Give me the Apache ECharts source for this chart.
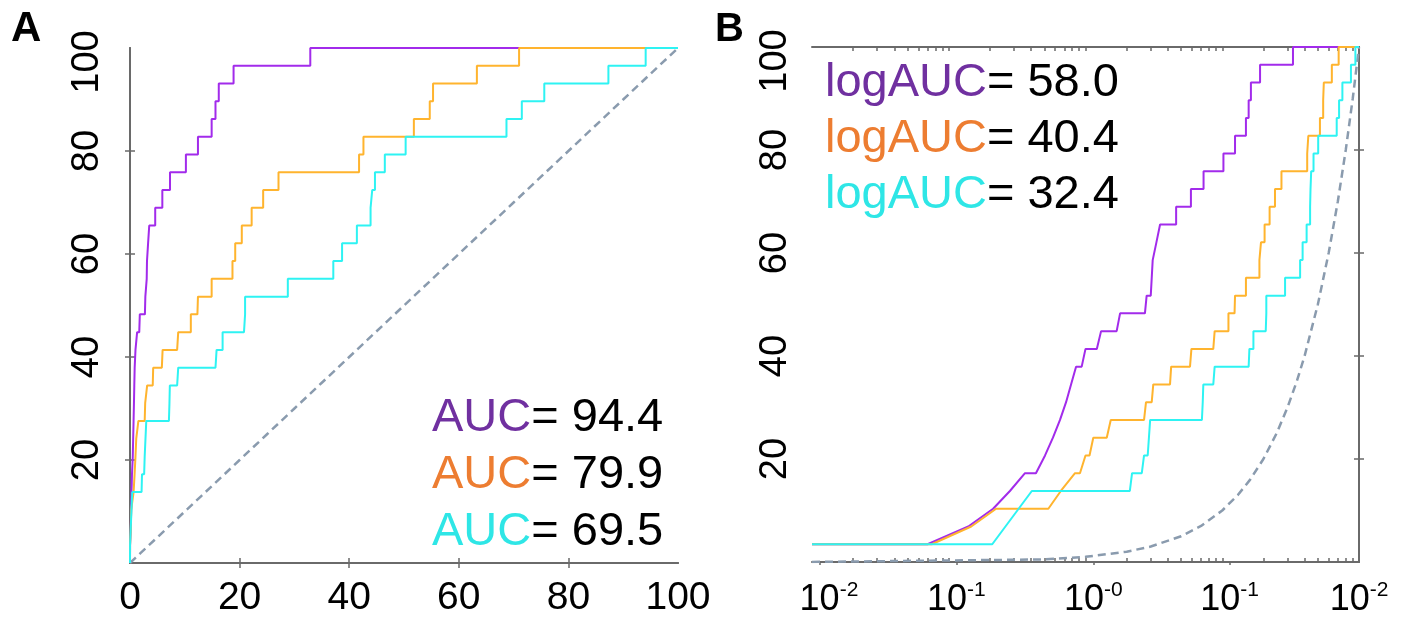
<!DOCTYPE html>
<html>
<head>
<meta charset="utf-8">
<script src="https://cdn.jsdelivr.net/npm/echarts@6/dist/echarts.min.js"></script>
<style>
  html, body { margin: 0; padding: 0; background: #fff; }
  #chart { width: 1408px; height: 619px; }
</style>
</head>
<body>
<div id="chart"></div>
<script>
// ROC curve vertices: [false positive rate (%), true positive rate (%)]
const rocPurple = [
  [0, 0], [0.01, 3.45], [0.07, 3.45], [0.139, 6.90], [0.211, 10.34], [0.28, 13.79],
  [0.361, 17.24], [0.434, 17.24], [0.506, 20.69], [0.578, 24.14], [0.651, 27.59],
  [0.721, 31.03], [0.784, 34.48], [0.853, 37.93], [0.938, 37.93], [1.0, 41.38],
  [1.21, 41.38], [1.30, 44.83], [1.69, 44.83], [1.79, 48.28], [2.72, 48.28],
  [2.80, 51.72], [3.0, 51.72], [3.05, 55.17], [3.1, 58.62], [3.30, 62.07],
  [3.51, 65.52], [4.6, 65.52], [4.6, 68.97], [5.9, 68.97], [5.9, 72.41],
  [7.3, 72.41], [7.3, 75.86], [10.2, 75.86], [10.2, 79.31], [12.4, 79.31],
  [12.4, 82.76], [14.9, 82.76], [14.9, 86.21], [15.6, 86.21], [15.6, 89.66],
  [16.2, 89.66], [16.2, 93.10], [18.9, 93.10], [18.9, 96.55], [32.9, 96.55],
  [32.9, 100], [100, 100]
];
const rocOrange = [
  [0, 0], [0.01, 3.45], [0.075, 3.45], [0.146, 6.90], [0.222, 10.34], [0.535, 10.34],
  [0.66, 13.79], [0.838, 17.24], [0.911, 17.24], [1.0, 20.69], [1.07, 20.69],
  [1.14, 24.14], [1.43, 24.14], [1.53, 27.59], [2.68, 27.59], [2.77, 31.03],
  [3.05, 31.03], [3.13, 34.48], [4.15, 34.48], [4.23, 37.93], [5.81, 37.93],
  [5.95, 41.38], [8.6, 41.38], [8.8, 44.83], [11.1, 44.83], [11.1, 48.28],
  [12.3, 48.28], [12.4, 51.72], [14.9, 51.72], [14.9, 55.17], [18.7, 55.17],
  [18.7, 58.62], [19.2, 58.62], [19.2, 62.07], [20.4, 62.07], [20.4, 65.52],
  [22.2, 65.52], [22.2, 68.97], [24.3, 68.97], [24.3, 72.41], [27.1, 72.41],
  [27.1, 75.86], [41.8, 75.86], [41.8, 79.31], [42.6, 79.31], [42.6, 82.76],
  [51.8, 82.76], [51.8, 86.21], [54.7, 86.21], [54.7, 89.66], [55.3, 89.66],
  [55.3, 93.10], [63.3, 93.10], [63.3, 96.55], [71.0, 96.55], [71.0, 100], [100, 100]
];
const rocCyan = [
  [0, 0], [0.01, 3.45], [0.208, 3.45], [0.405, 13.79], [2.11, 13.79], [2.19, 17.24],
  [2.58, 17.24], [2.68, 20.69], [2.85, 20.69], [2.97, 27.59], [7.1, 27.59],
  [7.2, 31.03], [7.27, 34.48], [8.6, 34.48], [8.8, 37.93], [15.6, 37.93],
  [15.8, 41.38], [16.9, 41.38], [16.9, 44.83], [20.8, 44.83], [21.0, 48.28],
  [21.0, 51.72], [28.8, 51.72], [28.8, 55.17], [37.1, 55.17], [37.1, 58.62],
  [38.7, 58.62], [38.7, 62.07], [41.4, 62.07], [41.4, 65.52], [43.9, 65.52],
  [43.9, 68.97], [44.2, 68.97], [44.2, 72.41], [44.7, 72.41], [44.7, 75.86],
  [46.5, 75.86], [46.5, 79.31], [50.3, 79.31], [50.3, 82.76], [68.7, 82.76],
  [68.7, 86.21], [71.5, 86.21], [71.5, 89.66], [75.6, 89.66], [75.6, 93.10],
  [87.3, 93.10], [87.3, 96.55], [94.1, 96.55], [94.1, 100], [100, 100]
];
// random-guess reference line (TPR = FPR)
const chanceLine = [
  [0, 0], [0.01, 0.01], [0.5, 0.5], [1, 1], [2, 2], [3, 3], [5, 5], [7, 7],
  [10, 10], [13, 13], [16, 16], [20, 20], [25, 25], [30, 30], [35, 35], [40, 40],
  [50, 50], [60, 60], [70, 70], [80, 80], [90, 90], [100, 100]
];

const aucValues = [94.4, 79.9, 69.5];
const logAucValues = [58.0, 40.4, 32.4];

const linearTicks = [0, 20, 40, 60, 80, 100];
const tprTicks = [20, 40, 60, 80, 100];
const innerTprTicks = [20, 40, 60, 80];
const innerFprTicks = [20, 40, 60, 80];
// decade axis (log10 of the FPR fraction): label positions and their exponents
const logLabelPos = [-3.876, -2.945, -1.942, -0.947, 0];
const logLabelExp = ['-2', '-1', '-0', '-1', '-2'];
const logOuterTicks = [-3.942, -2.943, -1.942, -0.947];

const lineColors = ['#A22BEB', '#FFB42E', '#2EF3F3'];
const textColors = ['#7030A0', '#ED7D31', '#2EE6E6'];
const chanceColor = '#8A9BAE';
const frameColor = '#6A6A6A';
const FONT = "'Liberation Sans', Arial, Helvetica, sans-serif";

// minor ticks of the log axis at m * 10^k
const logMinorTicks = [];
for (let k = -4; k <= -1; k++) {
  for (let m = 1; m <= 9; m++) {
    const v = k + Math.log10(m);
    if (v > -4) logMinorTicks.push(v);
  }
}

const frameLine = { show: true, lineStyle: { color: frameColor, width: 2 } };
const innerTick = (values, len) => ({
  show: true, inside: true, length: len, customValues: values,
  lineStyle: { color: frameColor, width: 1.5 }
});
const noLabel = { show: false };

function tprLabel(margin) {
  return {
    show: true, customValues: tprTicks, rotate: 90, margin: margin,
    fontSize: 38, fontFamily: FONT, color: '#000',
    formatter: v => (v === 100 ? '{top|100}' : String(v)),
    rich: { top: { fontSize: 38, fontFamily: FONT, color: '#000', padding: [0, 28, 0, 0] } }
  };
}

const xAxis = [
  // panel A
  { gridIndex: 0, type: 'value', min: 0, max: 100, position: 'bottom',
    axisLine: frameLine, axisTick: innerTick(innerFprTicks, 5), splitLine: { show: false },
    axisLabel: { show: true, customValues: linearTicks, margin: 16, fontSize: 39,
                 fontFamily: FONT, color: '#000' } },
  { gridIndex: 0, type: 'value', min: 0, max: 100, position: 'top',
    axisLine: frameLine, axisTick: innerTick(innerFprTicks, 5), splitLine: { show: false },
    axisLabel: noLabel },
  // panel B: FPR data axis (log)
  { gridIndex: 1, type: 'log', logBase: 10, min: 0.01, max: 100, show: false,
    splitLine: { show: false } },
  // panel B: decade axis carrying labels
  { gridIndex: 1, type: 'value', min: -4, max: 0, position: 'bottom',
    axisLine: frameLine, splitLine: { show: false },
    axisTick: { show: true, inside: false, length: 3, customValues: logOuterTicks,
                lineStyle: { color: frameColor, width: 1.5 } },
    axisLabel: {
      show: true, customValues: logLabelPos, margin: 18,
      formatter: v => {
        let best = 0;
        logLabelPos.forEach((p, i) => { if (Math.abs(p - v) < Math.abs(logLabelPos[best] - v)) best = i; });
        return '{b|10}{s|' + logLabelExp[best] + '}';
      },
      rich: {
        b: { fontSize: 36, fontFamily: FONT, color: '#000', lineHeight: 40 },
        s: { fontSize: 21, fontFamily: FONT, color: '#000', verticalAlign: 'top' }
      }
    } },
  { gridIndex: 1, type: 'value', min: -4, max: 0, position: 'bottom',
    axisLine: { show: false }, axisTick: innerTick(logMinorTicks, 4),
    splitLine: { show: false }, axisLabel: noLabel },
  { gridIndex: 1, type: 'value', min: -4, max: 0, position: 'top',
    axisLine: frameLine, axisTick: innerTick(logMinorTicks, 4),
    splitLine: { show: false }, axisLabel: noLabel }
];

const yAxis = [
  { gridIndex: 0, type: 'value', min: 0, max: 100, position: 'left',
    axisLine: frameLine, axisTick: innerTick(innerTprTicks, 5), splitLine: { show: false },
    axisLabel: tprLabel(23) },
  { gridIndex: 0, type: 'value', min: 0, max: 100, position: 'right',
    axisLine: frameLine, axisTick: innerTick(innerTprTicks, 5), splitLine: { show: false },
    axisLabel: noLabel },
  { gridIndex: 1, type: 'value', min: 0, max: 100, position: 'left',
    axisLine: frameLine, axisTick: innerTick(innerTprTicks, 5), splitLine: { show: false },
    axisLabel: tprLabel(17) },
  { gridIndex: 1, type: 'value', min: 0, max: 100, position: 'right',
    axisLine: frameLine, axisTick: innerTick(innerTprTicks, 5), splitLine: { show: false },
    axisLabel: noLabel }
];

function curve(data, color, xi, yi, dashed) {
  return {
    type: 'line', xAxisIndex: xi, yAxisIndex: yi, data: data,
    showSymbol: false, symbol: 'none', silent: true, animation: false,
    lineStyle: dashed
      ? { color: color, width: 2.5, type: [8, 5] }
      : { color: color, width: 2 }
  };
}
const positiveOnly = d => d.filter(p => p[0] > 0);

const rocSets = [rocPurple, rocOrange, rocCyan];
const series = [curve(chanceLine, chanceColor, 0, 0, true)];
rocSets.forEach((d, i) => series.push(curve(d, lineColors[i], 0, 0, false)));
series.push(curve(positiveOnly(chanceLine), chanceColor, 2, 2, true));
rocSets.forEach((d, i) => series.push(curve(positiveOnly(d), lineColors[i], 2, 2, false)));

// annotation text blocks
const graphic = [
  { type: 'text', x: 11, y: 29, style: { text: 'A', fontSize: 42, fontWeight: 'bold',
    fontFamily: FONT, fill: '#000', verticalAlign: 'middle' } },
  { type: 'text', x: 715, y: 30, style: { text: 'B', fontSize: 40, fontWeight: 'bold',
    fontFamily: FONT, fill: '#000', verticalAlign: 'middle' } }
];
const aucY = [418, 475, 532];
aucValues.forEach((v, i) => graphic.push({
  type: 'text', x: 432, y: aucY[i],
  style: {
    text: '{c|AUC}{k|= ' + v.toFixed(1) + '}', verticalAlign: 'middle',
    fontSize: 47, fontFamily: FONT,
    rich: { c: { fill: textColors[i], fontSize: 47, fontFamily: FONT },
            k: { fill: '#000', fontSize: 47, fontFamily: FONT } }
  }
}));
const logAucY = [83, 139, 195];
logAucValues.forEach((v, i) => graphic.push({
  type: 'text', x: 825, y: logAucY[i],
  style: {
    text: '{c|logAUC}{k|= ' + v.toFixed(1) + '}', verticalAlign: 'middle',
    fontSize: 47, fontFamily: FONT,
    rich: { c: { fill: textColors[i], fontSize: 47, fontFamily: FONT },
            k: { fill: '#000', fontSize: 47, fontFamily: FONT } }
  }
}));

const chart = echarts.init(document.getElementById('chart'), null, { renderer: 'canvas' });
chart.setOption({
  animation: false,
  backgroundColor: '#fff',
  grid: [
    { left: 130, top: 48, width: 548, height: 515, outerBoundsMode: 'none', containLabel: false },
    { left: 812, top: 47, width: 547, height: 515, outerBoundsMode: 'none', containLabel: false }
  ],
  xAxis: xAxis,
  yAxis: yAxis,
  series: series,
  graphic: graphic
});
</script>
</body>
</html>
